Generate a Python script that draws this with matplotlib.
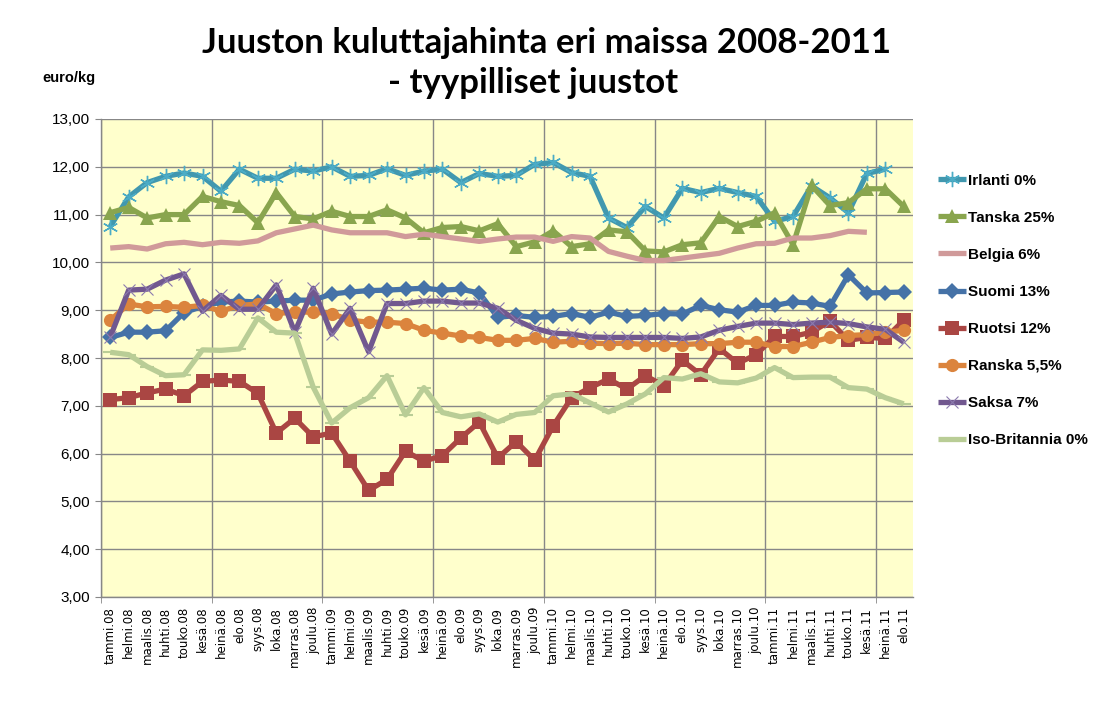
import numpy as np
import matplotlib
matplotlib.use("Agg")
import matplotlib.pyplot as plt
from matplotlib.ticker import FuncFormatter

nan = np.nan

# months / labels
months = ['tammi', 'helmi', 'maalis', 'huhti', 'touko', 'kesä',
          'heinä', 'elo', 'syys', 'loka', 'marras', 'joulu']
years = ['08', '09', '10', '11']
labels = [m + '.' + y for y in years for m in months][:44]

irlanti = [10.75, 11.37, 11.67, 11.8, 11.87, 11.8, 11.49, 11.95, 11.76, 11.76, 11.95, 11.91,
           12.0, 11.8, 11.82, 11.96, 11.82, 11.91, 11.95, 11.67, 11.86, 11.8, 11.82, 12.05,
           12.09, 11.88, 11.8, 10.93, 10.73, 11.17, 10.93, 11.55, 11.46, 11.55, 11.46, 11.38,
           10.86, 10.96, 11.6, 11.35, 11.04, 11.86, 11.95, nan]
tanska = [11.04, 11.15, 10.93, 11.0, 11.0, 11.38, 11.27, 11.19, 10.83, 11.46, 10.96, 10.91,
          11.07, 10.96, 10.96, 11.1, 10.93, 10.62, 10.73, 10.75, 10.66, 10.81, 10.33, 10.43,
          10.66, 10.33, 10.39, 10.68, 10.64, 10.24, 10.22, 10.37, 10.41, 10.96, 10.75, 10.86,
          11.04, 10.37, 11.61, 11.19, 11.25, 11.54, 11.54, 11.17]
belgia = [10.3, 10.33, 10.28, 10.39, 10.42, 10.37, 10.42, 10.4, 10.45, 10.62, 10.7, 10.78,
          10.68, 10.62, 10.62, 10.62, 10.54, 10.59, 10.54, 10.49, 10.44, 10.49, 10.53, 10.53,
          10.44, 10.54, 10.51, 10.23, 10.13, 10.04, 10.04, 10.09, 10.14, 10.19, 10.3, 10.39,
          10.4, 10.51, 10.51, 10.56, 10.65, 10.63, nan, nan]
suomi = [8.43, 8.54, 8.54, 8.57, 8.95, 9.08, 9.17, 9.19, 9.17, 9.19, 9.21, 9.21,
         9.34, 9.38, 9.41, 9.42, 9.44, 9.46, 9.42, 9.44, 9.36, 8.85, 8.89, 8.85,
         8.87, 8.93, 8.85, 8.96, 8.87, 8.89, 8.93, 8.92, 9.1, 9.01, 8.96, 9.1,
         9.1, 9.17, 9.15, 9.08, 9.74, 9.36, 9.37, 9.38]
ruotsi = [7.13, 7.17, 7.27, 7.35, 7.21, 7.51, 7.54, 7.51, 7.26, 6.43, 6.74, 6.35,
          6.43, 5.84, 5.23, 5.46, 6.05, 5.84, 5.96, 6.33, 6.66, 5.91, 6.25, 5.86,
          6.58, 7.17, 7.38, 7.56, 7.35, 7.63, 7.42, 7.95, 7.65, 8.2, 7.89, 8.07,
          8.45, 8.45, 8.54, 8.77, 8.37, 8.43, 8.41, 8.79]
ranska = [8.79, 9.13, 9.07, 9.08, 9.06, 9.1, 8.98, 9.1, 9.13, 8.93, 8.96, 8.96,
          8.93, 8.79, 8.75, 8.75, 8.72, 8.58, 8.52, 8.46, 8.43, 8.37, 8.37, 8.41,
          8.33, 8.35, 8.31, 8.3, 8.31, 8.28, 8.28, 8.28, 8.3, 8.3, 8.33, 8.33,
          8.24, 8.24, 8.33, 8.43, 8.47, 8.49, 8.54, 8.58]
saksa = [8.44, 9.42, 9.44, 9.63, 9.76, 8.98, 9.31, 9.02, 9.02, 9.53, 8.54, 9.46,
         8.5, 9.04, 8.13, 9.14, 9.14, 9.19, 9.19, 9.15, 9.15, 9.04, 8.79, 8.62,
         8.52, 8.5, 8.44, 8.43, 8.43, 8.43, 8.43, 8.41, 8.44, 8.58, 8.66, 8.73,
         8.73, 8.7, 8.73, 8.75, 8.72, 8.65, 8.6, 8.33]
britannia = [8.12, 8.07, 7.82, 7.63, 7.65, 8.17, 8.16, 8.19, 8.84, 8.54, 8.52, 7.39,
             6.64, 6.96, 7.17, 7.63, 6.81, 7.38, 6.86, 6.77, 6.83, 6.66, 6.82, 6.86,
             7.21, 7.25, 7.06, 6.87, 7.04, 7.25, 7.59, 7.56, 7.67, 7.5, 7.48, 7.58,
             7.8, 7.59, 7.6, 7.6, 7.38, 7.35, 7.17, 7.04]

series = [
    ('Irlanti 0%', irlanti, '#4198AF', dict(marker=(6, 2, 0), ms=11, mew=1.0, mec='#4BACC6')),
    ('Tanska 25%', tanska, '#89A54E', dict(marker='^', ms=10, mew=0)),
    ('Belgia 6%', belgia, '#D09A9A', dict(marker=None)),
    ('Suomi 13%', suomi, '#4572A7', dict(marker='D', ms=8, mew=0)),
    ('Ruotsi 12%', ruotsi, '#AA4643', dict(marker='s', ms=9.5, mew=0)),
    ('Ranska 5,5%', ranska, '#DB843D', dict(marker='o', ms=9.5, mew=0)),
    ('Saksa 7%', saksa, '#71588F', dict(marker='x', ms=9, mew=0.8, mec='#8C7AAE')),
    ('Iso-Britannia 0%', britannia, '#B9CD96', dict(marker='_', ms=10, mew=1.5)),
]

fig = plt.figure(figsize=(10.98, 7.10), dpi=100)
ax = fig.add_axes([101 / 1098, 1 - 597 / 710, 812 / 1098, 478 / 710])
ax.set_facecolor('#FFFFCC')

x = np.arange(len(labels))
for name, vals, col, mk in series:
    ax.plot(x, vals, color=col, lw=3.8, label=name, solid_joinstyle='round',
            solid_capstyle='butt', **mk)

ax.set_xlim(-0.5, len(labels) - 0.5)
ax.set_ylim(3, 13)
ax.set_yticks(np.arange(3, 14, 1))
ax.yaxis.set_major_formatter(FuncFormatter(lambda v, p: f'{v:.2f}'.replace('.', ',')))

ax.set_xticks(x)
ax.set_xticklabels(labels, rotation=90, fontsize=8.5, family='DejaVu Sans')
ax.set_xticks(np.arange(-0.5, len(labels), 6), minor=True)
ax.tick_params(axis='x', which='major', length=0, pad=7)
ax.tick_params(axis='x', which='minor', length=4, color='#878787')
ax.tick_params(axis='y', length=4, color='#878787', labelsize=11, pad=4)
for lab in ax.get_yticklabels():
    lab.set_family('Liberation Sans')

ax.grid(axis='y', color='#878787', lw=1)
ax.grid(axis='x', which='minor', color='#878787', lw=1)
ax.set_axisbelow(True)
for s in ['top', 'right']:
    ax.spines[s].set_visible(False)
for s in ['left', 'bottom']:
    ax.spines[s].set_color('#878787')
    ax.spines[s].set_linewidth(1)

fig.text(546 / 1098, 1 - 43 / 710, 'Juuston kuluttajahinta eri maissa 2008-2011',
         ha='center', va='center', fontsize=25, fontweight='bold',
         family=['Lato', 'DejaVu Sans'])
fig.text(533 / 1098, 1 - 83 / 710, '- tyypilliset juustot',
         ha='center', va='center', fontsize=25, fontweight='bold',
         family=['Lato', 'DejaVu Sans'])
fig.text(42 / 1098, 1 - 78 / 710, 'euro/kg', ha='left', va='center',
         fontsize=10.5, fontweight='bold', family='Liberation Sans')

fig.legend(loc='upper left', bbox_to_anchor=(930 / 1098, 1 - 166 / 710),
           frameon=False, prop=dict(family='Liberation Sans', weight='bold', size=11),
           handlelength=1.85, handletextpad=0.15, labelspacing=1.51, borderpad=0)

fig.savefig('out.png', dpi=100)
